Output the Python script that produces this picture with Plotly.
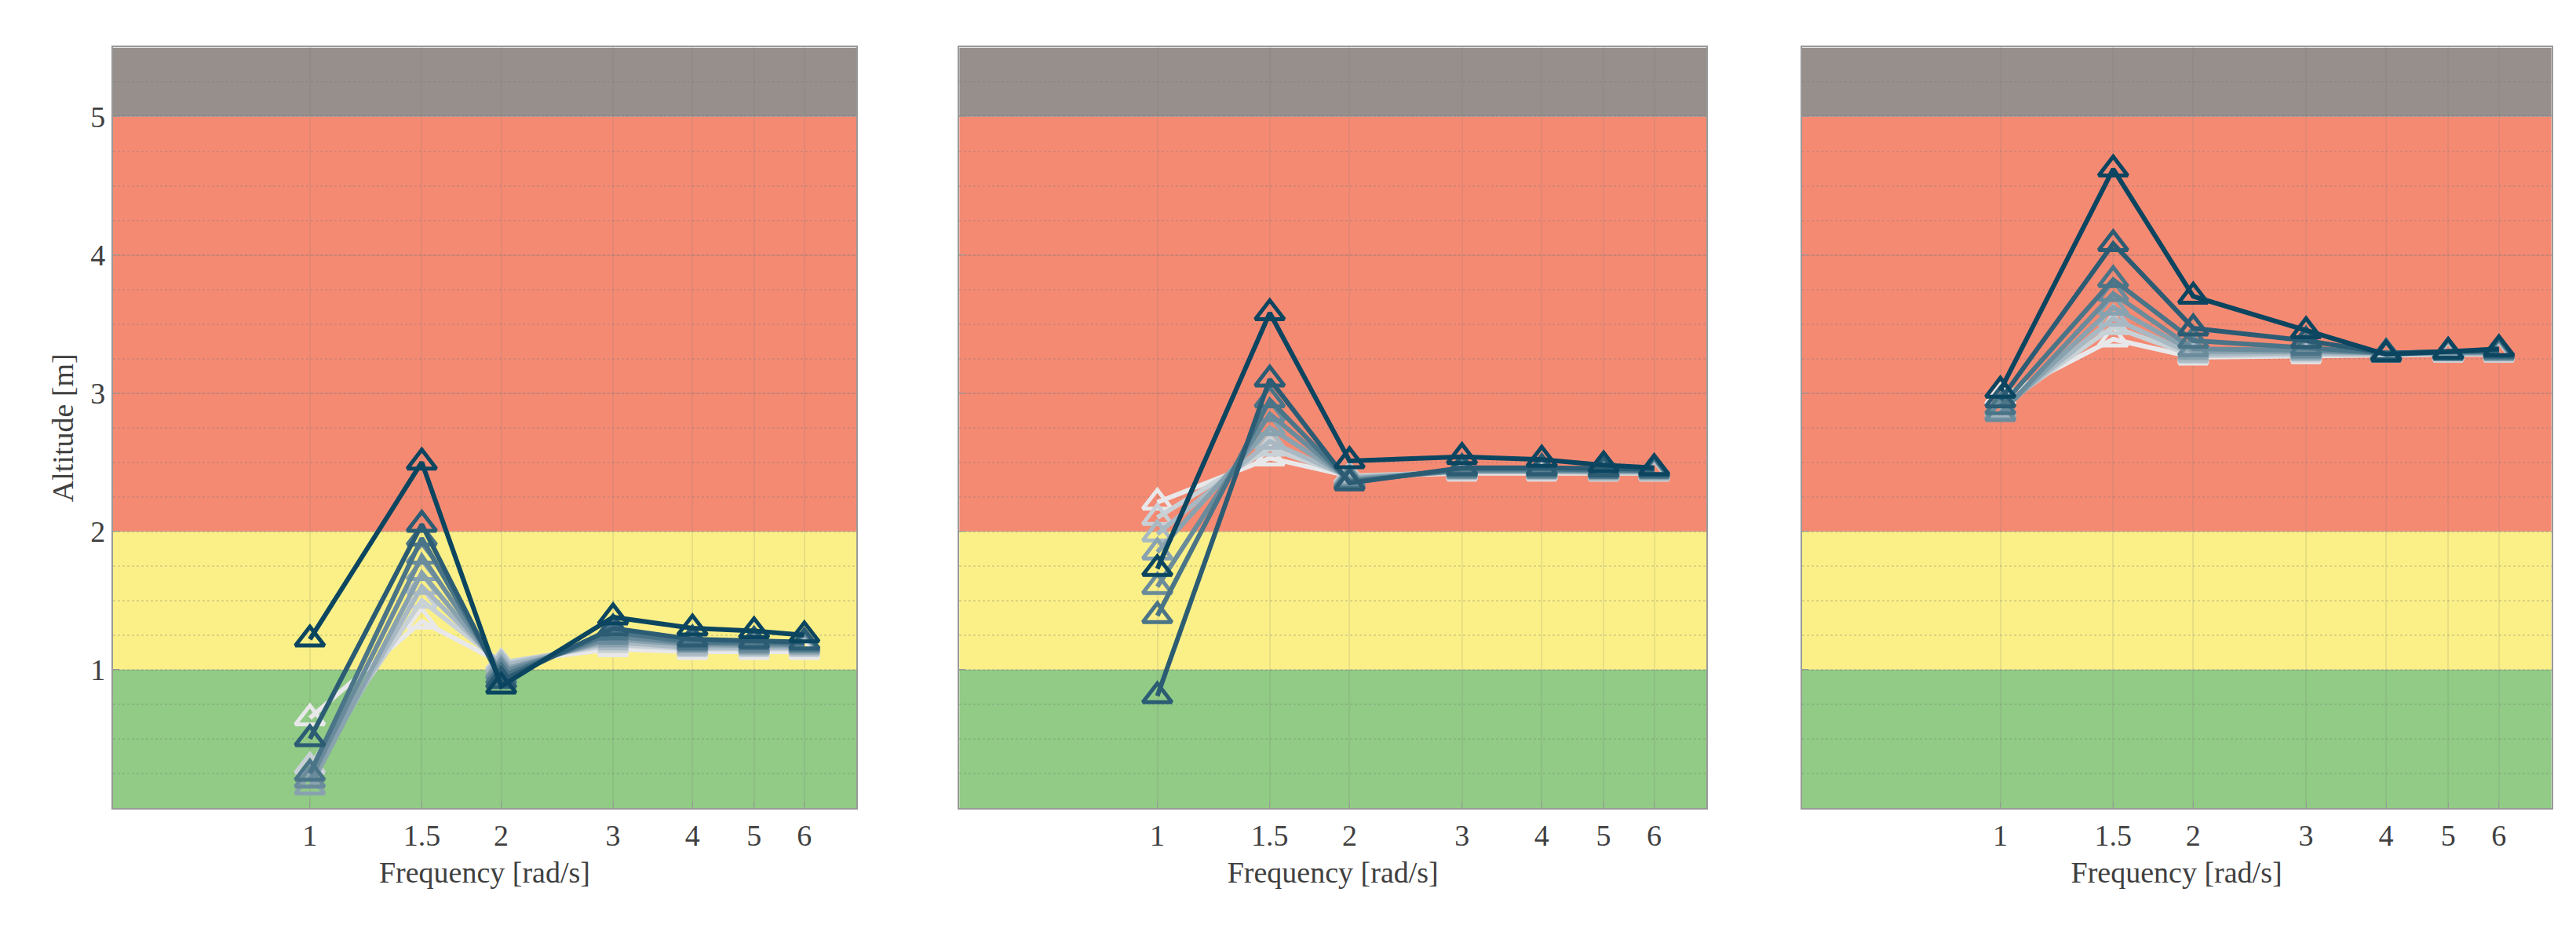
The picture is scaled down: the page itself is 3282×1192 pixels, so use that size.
import plotly.graph_objects as go

freq = [1, 1.5, 2, 3, 4, 5, 6]

# altitude per run, lightest -> darkest, one list of runs per panel
panel1 = [
    [0.65, 1.35, 1.05, 1.15, 1.13, 1.13, 1.13],
    [0.30, 1.50, 1.05, 1.18, 1.15, 1.15, 1.15],
    [0.20, 1.60, 1.03, 1.20, 1.16, 1.16, 1.16],
    [0.15, 1.70, 1.00, 1.22, 1.18, 1.17, 1.17],
    [0.20, 1.82, 0.98, 1.24, 1.19, 1.18, 1.18],
    [0.25, 1.95, 0.95, 1.27, 1.20, 1.20, 1.19],
    [0.50, 2.05, 0.92, 1.30, 1.22, 1.21, 1.20],
    [1.22, 2.50, 0.88, 1.38, 1.30, 1.28, 1.25],
]
panel2 = [
    [2.21, 2.53, 2.40, 2.42, 2.42, 2.42, 2.42],
    [2.10, 2.60, 2.40, 2.43, 2.43, 2.42, 2.42],
    [1.98, 2.65, 2.39, 2.43, 2.43, 2.43, 2.43],
    [1.85, 2.75, 2.38, 2.44, 2.44, 2.43, 2.43],
    [1.60, 2.85, 2.37, 2.44, 2.44, 2.44, 2.44],
    [1.39, 2.95, 2.36, 2.45, 2.45, 2.44, 2.44],
    [0.81, 3.10, 2.35, 2.46, 2.46, 2.45, 2.45],
    [1.73, 3.58, 2.51, 2.54, 2.52, 2.48, 2.46],
]
panel3 = [
    [2.97, 3.39, 3.26, 3.27, 3.28, 3.28, 3.28],
    [2.90, 3.48, 3.27, 3.28, 3.28, 3.28, 3.28],
    [2.88, 3.54, 3.28, 3.29, 3.28, 3.29, 3.29],
    [2.86, 3.62, 3.30, 3.30, 3.29, 3.29, 3.29],
    [2.85, 3.72, 3.32, 3.31, 3.29, 3.29, 3.30],
    [2.90, 3.82, 3.38, 3.33, 3.29, 3.30, 3.30],
    [2.95, 4.08, 3.47, 3.38, 3.29, 3.30, 3.31],
    [3.02, 4.62, 3.70, 3.45, 3.28, 3.30, 3.32],
]
panels = [panel1, panel2, panel3]

zones = [(0, 1, "#91cb85"), (1, 2, "#fbf087"), (2, 5, "#f58a73"), (5, 5.5, "#968f8c")]

light, dark = (232, 232, 234), (11, 69, 96)
n = len(panel1)
colors = []
for i in range(n):
    t = i / (n - 1)
    c = [round(light[k] + (dark[k] - light[k]) * t) for k in range(3)]
    colors.append(f"rgb({c[0]},{c[1]},{c[2]})")

domains = [(0.0414, 0.330), (0.370, 0.660), (0.697, 0.988)]
font = dict(family="Liberation Serif, DejaVu Serif, serif", size=38, color="#404040")

fig = go.Figure()
for p, runs in enumerate(panels):
    xa = "x" if p == 0 else f"x{p + 1}"
    ya = "y" if p == 0 else f"y{p + 1}"
    for i, vals in enumerate(runs):
        fig.add_scatter(
            x=freq, y=vals, xaxis=xa, yaxis=ya, mode="lines+markers",
            line=dict(color=colors[i], width=6),
            marker=dict(symbol="triangle-up-open", size=32, color=colors[i], line=dict(width=5)),
            showlegend=False,
        )
    for lo, hi, col in zones:
        fig.add_shape(type="rect", xref=f"{xa} domain", yref=ya, x0=0, x1=1, y0=lo, y1=hi,
                      fillcolor=col, line_width=0, layer="below")
    axsuffix = "" if p == 0 else str(p + 1)
    fig.update_layout(**{
        f"xaxis{axsuffix}": dict(
            type="log", range=[-0.31, 0.86], domain=domains[p], anchor=ya,
            tickvals=freq, ticktext=["1", "1.5", "2", "3", "4", "5", "6"],
            showgrid=True, gridcolor="rgba(120,120,120,0.15)", gridwidth=2,
            showline=True, mirror=True, linecolor="#999", linewidth=2,
            ticks="inside", ticklen=8, tickcolor="#999",
            title=dict(text="Frequency [rad/s]", font=font, standoff=14),
            tickfont=font, zeroline=False,
        ),
        f"yaxis{axsuffix}": dict(
            range=[0, 5.5], domain=[0.1435, 0.956], anchor=xa,
            tickvals=[1, 2, 3, 4, 5], showticklabels=(p == 0),
            showgrid=True, gridcolor="rgba(120,120,120,0.15)", gridwidth=2,
            minor=dict(dtick=0.25, showgrid=True, gridcolor="rgba(120,120,120,0.25)",
                       griddash="dot", gridwidth=2),
            showline=True, mirror=True, linecolor="#999", linewidth=2,
            ticks="inside", ticklen=8, tickcolor="#999",
            title=dict(text="Altitude [m]" if p == 0 else "", font=font, standoff=10),
            tickfont=font, zeroline=False,
        ),
    })

fig.update_layout(
    width=3282, height=1192, margin=dict(l=0, r=0, t=0, b=0),
    paper_bgcolor="white", plot_bgcolor="white", font=font,
)
fig.write_html("out.html")
